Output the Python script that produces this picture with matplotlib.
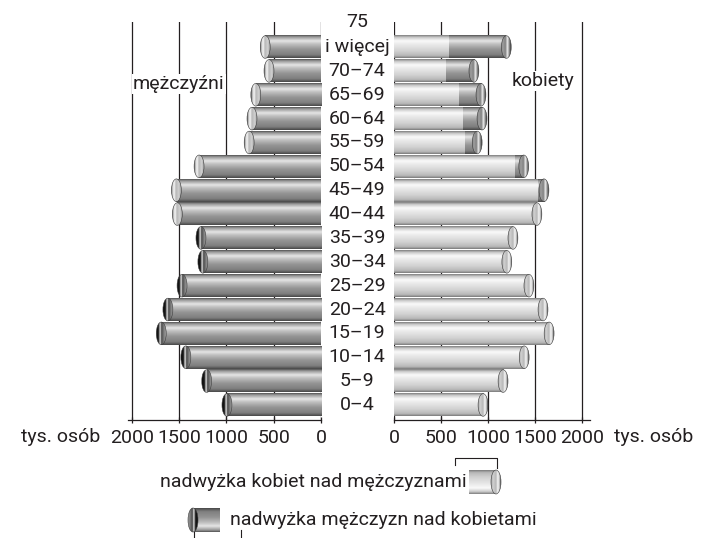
import numpy as np
import matplotlib.pyplot as plt
from matplotlib.patches import Ellipse
from matplotlib.transforms import blended_transform_factory

plt.rcParams['font.family'] = ['Roboto', 'DejaVu Sans']
plt.rcParams['text.color'] = '#231f20'
plt.rcParams['xtick.color'] = '#231f20'

# age groups, bottom -> top
ages = ["0–4", "5–9", "10–14", "15–19", "20–24", "25–29", "30–34", "35–39",
        "40–44", "45–49", "50–54", "55–59", "60–64", "65–69", "70–74", "i więcej"]
# population, thousands
men = [995, 1210, 1430, 1690, 1620, 1470, 1250, 1270,
       1520, 1530, 1290, 760, 730, 690, 550, 590]
women = [947, 1160, 1385, 1650, 1585, 1435, 1200, 1265,
         1520, 1595, 1380, 885, 936, 925, 850, 1195]
ticks = [0, 500, 1000, 1500, 2000]
tick_labels = ["0", "500", "1000", "1500", "2000"]

FS = 14


def profile(stops, n=80, horizontal=False):
    pos, val = zip(*stops)
    g = np.interp(np.linspace(0, 1, n), pos, val)
    img = np.stack([g, g, g], axis=-1)
    if horizontal:
        return np.repeat(img[None, :, :], 2, axis=0)
    return np.repeat(img[:, None, :], 2, axis=1)


# shading of the cylinders (top -> bottom)
dark_body = profile([(0, 0.32), (0.07, 0.58), (0.25, 0.90), (0.38, 0.76),
                     (0.62, 0.58), (0.86, 0.50), (1, 0.28)])
light_body = profile([(0, 0.50), (0.1, 0.80), (0.25, 0.98), (0.4, 0.92),
                      (0.7, 0.82), (0.9, 0.72), (1, 0.48)])
# end caps (outer edge -> inner edge)
light_cap = profile([(0, 0.30), (0.12, 0.70), (0.3, 0.98), (0.5, 0.72),
                     (0.8, 0.82), (1, 0.62)], horizontal=True)
mid_cap = profile([(0, 0.25), (0.15, 0.50), (0.35, 0.95), (0.55, 0.50),
                   (0.8, 0.62), (1, 0.50)], horizontal=True)
black_cap = profile([(0, 0.05), (0.25, 0.10), (0.42, 0.95), (0.55, 0.28),
                     (0.8, 0.50), (1, 0.62)], horizontal=True)


def body(ax, a, b, y, h, img):
    ax.imshow(img, extent=(a, b, y - h / 2, y + h / 2), aspect='auto',
              interpolation='bilinear', zorder=2)


def cap(ax, x, y, w, h, img):
    e = Ellipse((x, y), w, h, facecolor='none', edgecolor='#3a3a3a',
                lw=0.4, zorder=4)
    ax.add_patch(e)
    im = ax.imshow(img, extent=(x + w / 2, x - w / 2, y - h / 2, y + h / 2),
                   aspect='auto', interpolation='bilinear', zorder=3)
    im.set_clip_path(e)


fig = plt.figure(figsize=(7.06, 5.38), dpi=100)
axL = fig.add_axes([128 / 706, 118 / 538, 193 / 706, 398 / 538])
axR = fig.add_axes([394 / 706, 118 / 538, 196 / 706, 398 / 538])

h = 0.95
capw = 105
ypos = np.arange(len(ages))

# men (left)
for y, m, w in zip(ypos, men, women):
    body(axL, 0, m, y, h, dark_body)
    cap(axL, m, y, capw, h, black_cap if m > w else light_cap)

# women (right)
for y, m, w in zip(ypos, men, women):
    if w > m:
        body(axR, 0, m, y, h, light_body)
        body(axR, m, w, y, h, dark_body)
        cap(axR, w, y, capw, h, mid_cap)
    else:
        body(axR, 0, w, y, h, light_body)
        cap(axR, w, y, capw, h, light_cap)

for ax, xl in [(axL, (2042, 0)), (axR, (0, 2085))]:
    ax.set_xlim(*xl)
    ax.set_ylim(-0.63, 16.05)
    for t in ticks:
        ax.axvline(t, color='#231f20', lw=0.9, zorder=0.5)
    for s in ['top', 'left', 'right']:
        ax.spines[s].set_visible(False)
    ax.spines['bottom'].set_linewidth(0.9)
    ax.spines['bottom'].set_color('#231f20')
    ax.set_yticks([])
    ax.set_xticks(ticks)
    ax.set_xticklabels(tick_labels, fontsize=FS)
    ax.tick_params(axis='x', direction='inout', length=5, width=0.9, pad=4)
    ax.patch.set_alpha(0)

# age labels between the halves
tr = blended_transform_factory(fig.transFigure, axL.transData)
for y, lab in zip(ypos, ages):
    fig.text(357 / 706, y, lab, transform=tr, ha='center', va='center',
             fontsize=FS)
fig.text(357 / 706, ypos[-1] + 1.05, "75", transform=tr, ha='center',
         va='center', fontsize=FS)

fig.text(133 / 706, 1 - 84 / 538, "mężczyźni", ha='left', va='center',
         fontsize=FS, bbox=dict(facecolor='white', edgecolor='none', pad=1))
fig.text(543 / 706, 1 - 81 / 538, "kobiety", ha='center', va='center',
         fontsize=FS, bbox=dict(facecolor='white', edgecolor='none', pad=1))
fig.text(61 / 706, 1 - 437 / 538, "tys. osób", ha='center', va='center',
         fontsize=FS)
fig.text(654 / 706, 1 - 437 / 538, "tys. osób", ha='center', va='center',
         fontsize=FS)

# legend drawn in pixel space
axO = fig.add_axes([0, 0, 1, 1], zorder=5)
axO.axis('off')
axO.patch.set_alpha(0)

axO.text(467, 482, "nadwyżka kobiet nad mężczyznami", ha='right',
         va='center', fontsize=FS)
body(axO, 469, 496, 482, 24, light_body)
cap(axO, 496, 482, 10, 24, light_cap)
axO.plot([455, 455, 497, 497], [465, 458, 458, 468], color='#231f20', lw=0.8)

body(axO, 220, 193, 520, 24, dark_body)
cap(axO, 193, 520, 10, 24, black_cap)
axO.text(230, 520, "nadwyżka mężczyzn nad kobietami", ha='left',
         va='center', fontsize=FS)
axO.plot([194, 194], [532, 538], color='#231f20', lw=0.8)
axO.plot([241, 241], [530, 538], color='#231f20', lw=0.8)
axO.set_xlim(0, 706)
axO.set_ylim(538, 0)

fig.savefig("out.png", dpi=100)
